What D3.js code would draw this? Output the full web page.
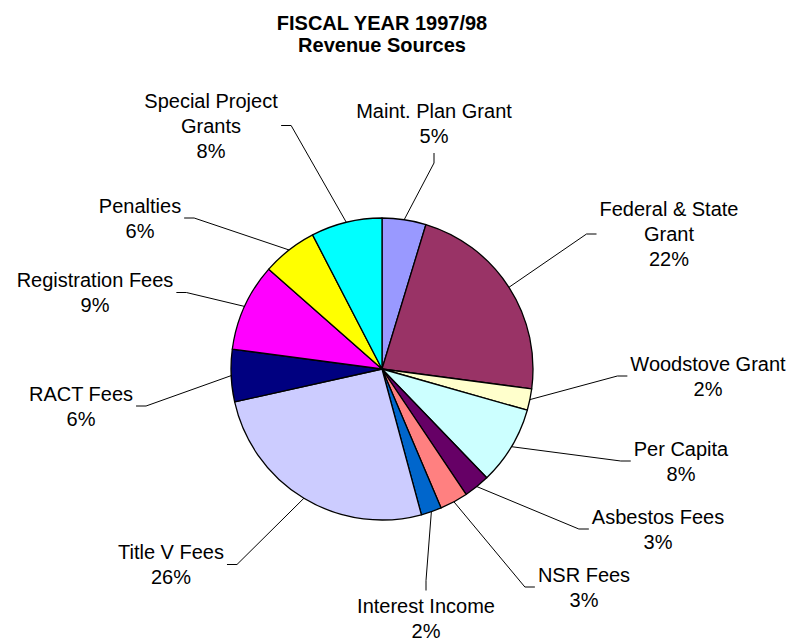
<!DOCTYPE html>
<html>
<head>
<meta charset="utf-8">
<script src="https://cdn.jsdelivr.net/npm/d3@7"></script>
<style>
  html, body { margin: 0; padding: 0; background: #fff; }
  svg { display: block; font-family: "Liberation Sans", Arial, sans-serif; }
</style>
</head>
<body>
<svg id="chart" width="802" height="641"></svg>
<script>
// Revenue sources, clockwise from 12 o'clock (percent of total)
const categories = [
  "Maint. Plan Grant", "Federal & State Grant", "Woodstove Grant", "Per Capita",
  "Asbestos Fees", "NSR Fees", "Interest Income", "Title V Fees",
  "RACT Fees", "Registration Fees", "Penalties", "Special Project Grants"
];
const shares = [4.7, 22.4, 2.3, 8.4, 2.8, 3.0, 2.2, 25.7, 5.6, 9.4, 5.9, 7.6];
const titleLines = ["FISCAL YEAR 1997/98", "Revenue Sources"];

// Slice fills (classic spreadsheet palette)
const fills = [
  "#9999FF", "#993366", "#FFFFCC", "#CCFFFF", "#660066", "#FF8080",
  "#0066CC", "#CCCCFF", "#000080", "#FF00FF", "#FFFF00", "#00FFFF"
];

// Label placement: wrapped name, block centre, and which side the leader enters from
const labelLayout = [
  { lines: ["Maint. Plan Grant"],        x: 434, y: 123.5, side: "top" },
  { lines: ["Federal & State", "Grant"], x: 669, y: 234,   side: "right" },
  { lines: ["Woodstove Grant"],          x: 708, y: 376,   side: "right" },
  { lines: ["Per Capita"],               x: 681, y: 461,   side: "right" },
  { lines: ["Asbestos Fees"],            x: 658, y: 529,   side: "right" },
  { lines: ["NSR Fees"],                 x: 584, y: 587,   side: "right" },
  { lines: ["Interest Income"],          x: 426, y: 618,   side: "bottom" },
  { lines: ["Title V Fees"],             x: 171, y: 564.5, side: "left" },
  { lines: ["RACT Fees"],                x: 81,  y: 406,   side: "left" },
  { lines: ["Registration Fees"],        x: 95,  y: 292.5, side: "left" },
  { lines: ["Penalties"],                x: 140, y: 218,   side: "left" },
  { lines: ["Special Project", "Grants"],x: 211, y: 125.5, side: "left" }
];

const cx = 382, cy = 369, radius = 151;
const lineGap = 25, fontSize = 20;

const svg = d3.select("#chart");

// Title
svg.append("g").selectAll("text")
  .data(titleLines)
  .join("text")
  .attr("x", cx)
  .attr("y", (d, i) => 30 + i * 22)
  .attr("text-anchor", "middle")
  .attr("font-size", fontSize)
  .attr("font-weight", "bold")
  .attr("fill", "#000")
  .text(d => d);

const data = categories.map((name, i) => ({ name, value: shares[i], fill: fills[i], layout: labelLayout[i] }));
const total = d3.sum(shares);

const pie = d3.pie().value(d => d.value).sort(null);
const arcs = pie(data);
const arc = d3.arc().innerRadius(0).outerRadius(radius);

const g = svg.append("g").attr("transform", `translate(${cx},${cy})`);

g.selectAll("path.slice")
  .data(arcs)
  .join("path")
  .attr("class", "slice")
  .attr("d", arc)
  .attr("fill", d => d.data.fill)
  .attr("stroke", "#000")
  .attr("stroke-width", 1.3)
  .attr("stroke-linejoin", "round");

// Labels
const labels = svg.append("g");
const leaders = svg.append("g");

arcs.forEach(d => {
  const L = d.data.layout;
  const lines = L.lines.concat([Math.round(d.data.value / total * 100) + "%"]);
  const n = lines.length;
  const t = labels.append("text")
    .attr("text-anchor", "middle")
    .attr("font-size", fontSize)
    .attr("fill", "#000");
  lines.forEach((s, i) => {
    t.append("tspan")
      .attr("x", L.x)
      .attr("y", L.y + (i - (n - 1) / 2) * lineGap)
      .attr("dy", "0.35em")
      .text(s);
  });
  const box = t.node().getBBox();

  // Leader: from slice edge at mid-angle to an elbow, then a short run to the label
  const mid = (d.startAngle + d.endAngle) / 2;
  const p0 = [cx + radius * Math.sin(mid), cy - radius * Math.cos(mid)];
  let end, elbow;
  if (L.side === "left") {
    end = [box.x + box.width + 3, L.y];
    elbow = [end[0] + 10, L.y];
  } else if (L.side === "right") {
    end = [box.x - 3, L.y];
    elbow = [end[0] - 10, L.y];
  } else if (L.side === "top") {
    end = [L.x, box.y + box.height + 6];
    elbow = [L.x, end[1] + 10];
  } else {
    end = [L.x, box.y - 4];
    elbow = [L.x, end[1] - 10];
  }
  leaders.append("path")
    .attr("d", d3.line()([p0, elbow, end]))
    .attr("fill", "none")
    .attr("stroke", "#000")
    .attr("stroke-width", 1);
});
</script>
</body>
</html>
